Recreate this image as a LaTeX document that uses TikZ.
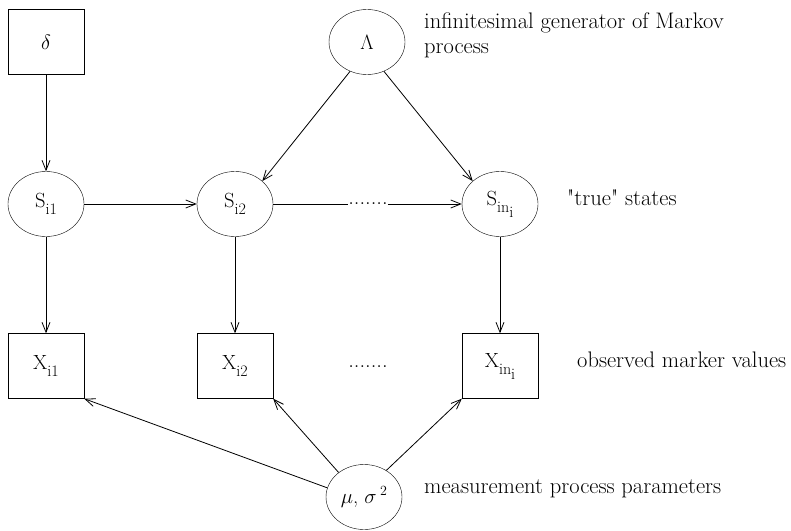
\documentclass[tikz,border=0pt]{standalone}
\usepackage{fontspec}
\usetikzlibrary{arrows.meta,shapes.geometric}

\newcommand\lowsub[1]{\raisebox{-7pt}{\fontsize{16}{16}\selectfont #1}}

\begin{document}
\begin{tikzpicture}[x=1pt,y=-1pt,
    state/.style={draw,ellipse,minimum width=76pt,minimum height=65pt,inner sep=0pt,font=\fontsize{20.5}{24}\selectfont},
    obs/.style={draw,rectangle,minimum width=76pt,minimum height=65pt,inner sep=0pt,font=\fontsize{20.5}{24}\selectfont},
    note/.style={font=\fontsize{22.5}{25}\selectfont,inner sep=0pt,align=left},
    arr/.style={-{Straight Barb[length=10pt,width=8pt]},line width=0.8pt}]
  \useasboundingbox (0,0) rectangle (791,530);

  % parameters
  \node[obs] (delta) at (46,42) {$\delta$};
  \node[state] (lam) at (367,42) {$\Lambda$};
  \node[state] (mu) at (364,497) {$\mu$, $\sigma$\,\raisebox{8pt}{\fontsize{14}{14}\selectfont 2}};

  % states and observations
  \foreach[count=\i] \x/\s in {46/i1,235/i2,500/{in\raisebox{-5pt}{i}}} {
    \node[state] (s\i) at (\x,204) {S\lowsub{\s}};
    \node[obs] (x\i) at (\x,366) {X\lowsub{\s}};
    \draw[arr] (s\i) -- (x\i);
  }

  \node[note] (sdots) at (368,204) {.......};
  \node[note,anchor=base] (xdots) at (368,367) {.......};

  \draw[arr] (delta) -- (s1);
  \draw[arr] (s1) -- (s2);
  \draw[line width=0.8pt] (s2) -- (sdots);
  \draw[arr] (sdots) -- (s3);
  \draw[arr] (lam.240) -- (s2.40);
  \draw[arr] (lam.300) -- (s3.140);
  \draw[arr] (mu.166) -- (x1.south east);
  \draw[arr] (mu.136) -- (x2.south east);
  \draw[arr] (mu.50) -- (x3.south west);

  % side notes
  \node[note,anchor=north west] (lamnote) at (424,13) {infinitesimal generator of Markov\\process};
  \node[note,anchor=base west] (snote) at (567,205) {\textquotedbl true\textquotedbl{} states};
  \node[note,anchor=base west] (xnote) at (577,367) {observed marker values};
  \node[note,anchor=base west] (munote) at (424,493) {measurement process parameters};
\end{tikzpicture}
\end{document}
